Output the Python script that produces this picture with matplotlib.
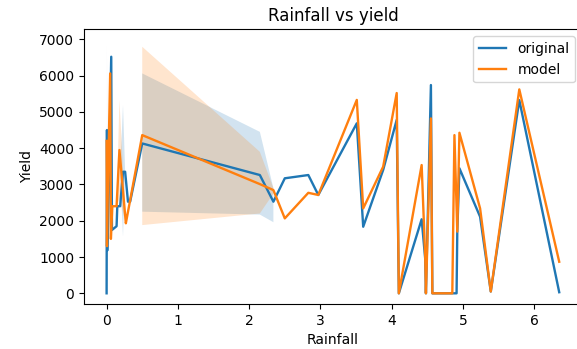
import numpy as np
import matplotlib.pyplot as plt

# original yield vs rainfall (mean line + confidence band)
orig_x = [0.000, 0.005, 0.014, 0.065, 0.075, 0.14, 0.15, 0.19, 0.23, 0.26, 0.30, 0.33,
          0.50, 2.15, 2.34, 2.50, 2.83, 2.97, 3.51, 3.60, 3.88, 4.07, 4.10, 4.42, 4.47,
          4.48, 4.55, 4.57, 4.85, 4.91, 4.92, 4.95, 5.24, 5.39, 5.79, 6.35]
orig_y = [0, 4500, 1190, 6520, 1745, 1850, 2400, 2400, 3350, 3350, 2525, 2525,
          4130, 3260, 2525, 3170, 3260, 2710, 4685, 1835, 3400, 4780, 0, 2040, 950,
          0, 5740, 0, 0, 0, 1700, 3445, 2110, 50, 5325, 30]
orig_lo = [np.nan, 1000, 1190, np.nan, np.nan, np.nan, np.nan, 3350, 1560, 3350, np.nan, np.nan,
           2250, 2170, 1960] + [np.nan] * 21
orig_hi = [np.nan, 6930, 1190, np.nan, np.nan, np.nan, np.nan, 3350, 5190, 3350, np.nan, np.nan,
           6060, 4450, 2900] + [np.nan] * 21

# model predictions
model_x = [0.000, 0.005, 0.014, 0.050, 0.060, 0.080, 0.14, 0.18, 0.27, 0.28, 0.50,
           2.15, 2.34, 2.50, 2.83, 2.97, 3.51, 3.60, 3.88, 4.07, 4.10, 4.42, 4.47, 4.48,
           4.55, 4.57, 4.85, 4.88, 4.92, 4.95, 5.24, 5.39, 5.79, 6.35]
model_y = [4200, 1300, 2500, 6060, 1500, 2400, 2400, 3950, 1930, 2036, 4360,
           3010, 2845, 2065, 2770, 2710, 5330, 2340, 3490, 5520, 0, 3535, 1010, 0,
           4820, 0, 0, 4360, 1700, 4425, 2340, 50, 5620, 870]
model_lo = [np.nan] * 6 + [2400, 2600, 1930, np.nan, 1880, 2200, 2750] + [np.nan] * 21
model_hi = [np.nan] * 6 + [2400, 5325, 1930, np.nan, 6795, 3900, 2900] + [np.nan] * 21

plt.rcParams['figure.dpi'] = 100
fig = plt.figure(figsize=(5.77, 3.49), dpi=100)
ax = fig.add_axes([0.1456, 0.1289, 0.8631, 0.7871])

ax.plot(orig_x, orig_y, color='tab:blue', lw=1.7, label='original')
ax.fill_between(orig_x, orig_lo, orig_hi, color='tab:blue', alpha=0.2, lw=0)
ax.plot(model_x, model_y, color='tab:orange', lw=1.7, label='model')
ax.fill_between(model_x, model_lo, model_hi, color='tab:orange', alpha=0.2, lw=0)

ax.set_xlim(-0.317, 6.67)
ax.set_ylim(-295, 7276)
ax.set_title('Rainfall vs yield')
ax.set_xlabel('Rainfall')
ax.set_ylabel('Yield')
ax.legend(loc='upper right')

fig.savefig('out.png', dpi=100)
